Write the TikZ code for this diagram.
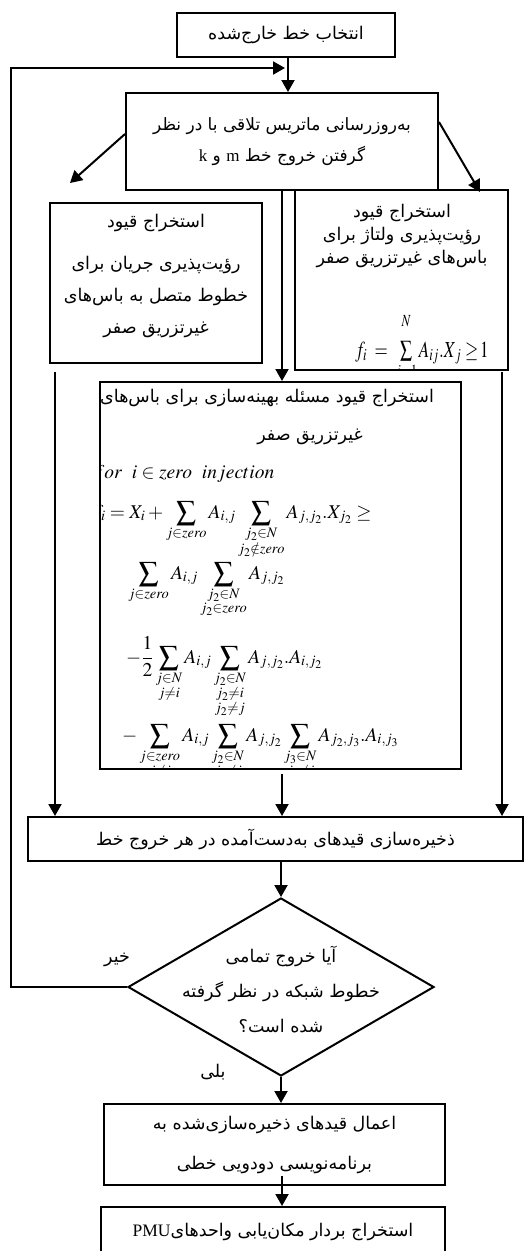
\documentclass[tikz,border=0pt]{standalone}
\usepackage{amsmath}
\usepackage{mathptmx}
\usepackage{graphicx}
\usepackage{fontspec}
\setmainfont{Liberation Serif}
\newfontfamily\arabicfont[Script=Arabic]{DejaVu Sans}
\TeXXeTstate=1
\usetikzlibrary{arrows.meta,shapes.geometric,calc}
\newcommand{\fa}[1]{{\arabicfont\beginR #1\endR}}
\newcommand{\fs}[2]{\fontsize{#1}{#2}\selectfont}
\tikzset{
  box/.style={draw, line width=2pt, rectangle, inner sep=0pt, align=center},
  arr/.style={line width=2pt, -{Triangle[length=12pt,width=13pt]}},
  ptxt/.style={inner sep=0pt, align=center},
  mtxt/.style={inner sep=0pt, anchor=base west, font=\fs{19.5}{24}},
}
\begin{document}
\begin{tikzpicture}[x=1pt,y=-1pt]
\useasboundingbox (0,0) rectangle (526,1251);
% boxes
\node[box, minimum width=218pt, minimum height=44pt, font=\fs{17.5}{20}] (b1) at (286,35) {\fa{انتخاب خط خارج^^^^200cشده}};
\node[box, minimum width=312pt, minimum height=97pt, font=\fs{17}{31}] (b2) at (282,141.5)
  {\fa{به^^^^200cروزرسانی ماتریس تلاقی با در نظر}\\\fa{گرفتن خروج خط {\rmfamily m} و {\rmfamily k}}};
\node[box, minimum width=212pt, minimum height=160pt] (lb) at (156,283) {};
\node[box, minimum width=213pt, minimum height=180pt] (rb) at (401.5,280) {};
\node[box, minimum width=361pt, minimum height=387pt] (b3) at (280.5,575.5) {};
\node[box, minimum width=495pt, minimum height=44pt, font=\fs{17.5}{20}] (b4) at (275.5,839)
  {\fa{ذخیره^^^^200cسازی قیدهای به^^^^200cدست^^^^200cآمده در هر خروج خط}};
\node[draw, line width=2pt, diamond, minimum width=306pt, minimum height=178pt, inner sep=0pt] (dia) at (281,987) {};
\node[box, minimum width=341pt, minimum height=81pt, font=\fs{17.5}{40}] (b5) at (274.5,1144.5)
  {\fa{اعمال قیدهای ذخیره^^^^200cسازی^^^^200cشده به}\\\fa{برنامه^^^^200cنویسی دودویی خطی}};
\node[box, minimum width=344pt, minimum height=50pt, font=\fs{17.5}{20}] (b6) at (273,1232)
  {\fa{استخراج بردار مکان^^^^200cیابی واحدهای\beginL{\rmfamily PMU}\endL}};

% texts in side boxes
\node[ptxt, font=\fs{17.5}{32}] (lbt) at (156,276)
  {\fa{استخراج قیود}\\[10pt]\fa{رؤیت^^^^200cپذیری جریان برای}\\\fa{خطوط متصل به باس^^^^200cهای}\\\fa{غیرتزریق صفر}};
\node[ptxt, font=\fs{17.5}{23}] (rbt) at (402,236)
  {\fa{استخراج قیود}\\\fa{رؤیت^^^^200cپذیری ولتاژ برای}\\\fa{باس^^^^200cهای غیرتزریق صفر}};
\begin{scope}
  \clip (295,190) rectangle (508,370);
  \node[inner sep=0pt, anchor=base, font=\fs{17}{20}] (rbf) at (422,357)
    {\scalebox{1}[1.35]{$f_i \;=\; \sum\limits_{j=1}^{\rule[-9pt]{0pt}{9pt}N} A_{ij}.X_{\,j} \geq\! 1$}};
\end{scope}
% texts in box 3
\begin{scope}
  \clip (100,382) rectangle (461,769);
  \node[ptxt, anchor=east, font=\fs{17.5}{20}] (t31) at (434,398)
    {\fa{استخراج قیود مسئله بهینه^^^^200cسازی برای باس^^^^200cهای}};
  \node[ptxt, font=\fs{17.5}{20}] (t32) at (310,437) {\fa{غیرتزریق صفر}};
  \node[mtxt] (m0) at (93,478) {$for\ \ i \in zero\ \ injection$};
  \node[mtxt] (m1) at (92,518)
    {$\displaystyle f_i = X_i + \sum_{j\in zero} A_{i,j} \sum_{\substack{j_2\in N\\ j_2\notin zero}} A_{j,j_2}.X_{j_2} \geq$};
  \node[mtxt] (m2) at (128,579)
    {$\displaystyle \sum_{j\in zero} A_{i,j} \sum_{\substack{j_2\in N\\ j_2\in zero}} A_{j,j_2}$};
  \node[mtxt] (m3) at (126,663)
    {$\displaystyle -\frac{1}{2}\sum_{\substack{j\in N\\ j\neq i}} A_{i,j} \sum_{\substack{j_2\in N\\ j_2\neq i\\ j_2\neq j}} A_{j,j_2}.A_{i,j_2}$};
  \node[mtxt] (m4) at (122,741)
    {$\displaystyle -\sum_{\substack{j\in zero\\ j\neq i}} A_{i,j} \sum_{\substack{j_2\in N\\ j_2\neq i}} A_{j,j_2} \sum_{\substack{j_3\in N\\ j_3\neq i}} A_{j_2,j_3}.A_{i,j_3}$};
\end{scope}
% diamond text and labels
\node[ptxt, font=\fs{17.5}{35}] (dt) at (281,990)
  {\fa{آیا خروج تمامی}\\\fa{خطوط شبکه در نظر گرفته}\\\fa{شده است؟}};
\node[ptxt, font=\fs{17.5}{20}] (no) at (117,960) {\fa{خیر}};
\node[ptxt, font=\fs{17.5}{20}] (yes) at (213,1072) {\fa{بلی}};

% coordinates
\coordinate (back) at (285,68);
\coordinate (ax) at (282,0);
\coordinate (ldiag) at (70,183);
\coordinate (rdiag) at (480,192);
\coordinate (l0) at (55,372);
\coordinate (r0) at (502,372);

% connectors
\draw[arr] ([xshift=2pt]b1.south) -- ([xshift=2pt]b1.south |- b2.north);
\draw[arr] (dia.west) -| (11,68) -- (back);
\draw[arr] ([yshift=-42pt]b2.north west) -- (ldiag);
\draw[arr] ([yshift=-30pt]b2.north east) -- (rdiag);
\draw[arr] (b2.south -| ax) -- (b3.north -| ax);
\draw[arr] (l0) -- (l0 |- b4.north);
\draw[arr] (r0) -- (r0 |- b4.north);
\draw[arr] ([yshift=-4pt]b3.south -| ax) -- (b4.north -| ax);
\draw[arr] (b4.south -| dia.north) -- (dia.north);
\draw[arr] (dia.south) -- (dia.south |- b5.north);
\draw[arr] ([yshift=10pt]b5.south -| ax) -- (b6.north -| ax);
\end{tikzpicture}
\end{document}
